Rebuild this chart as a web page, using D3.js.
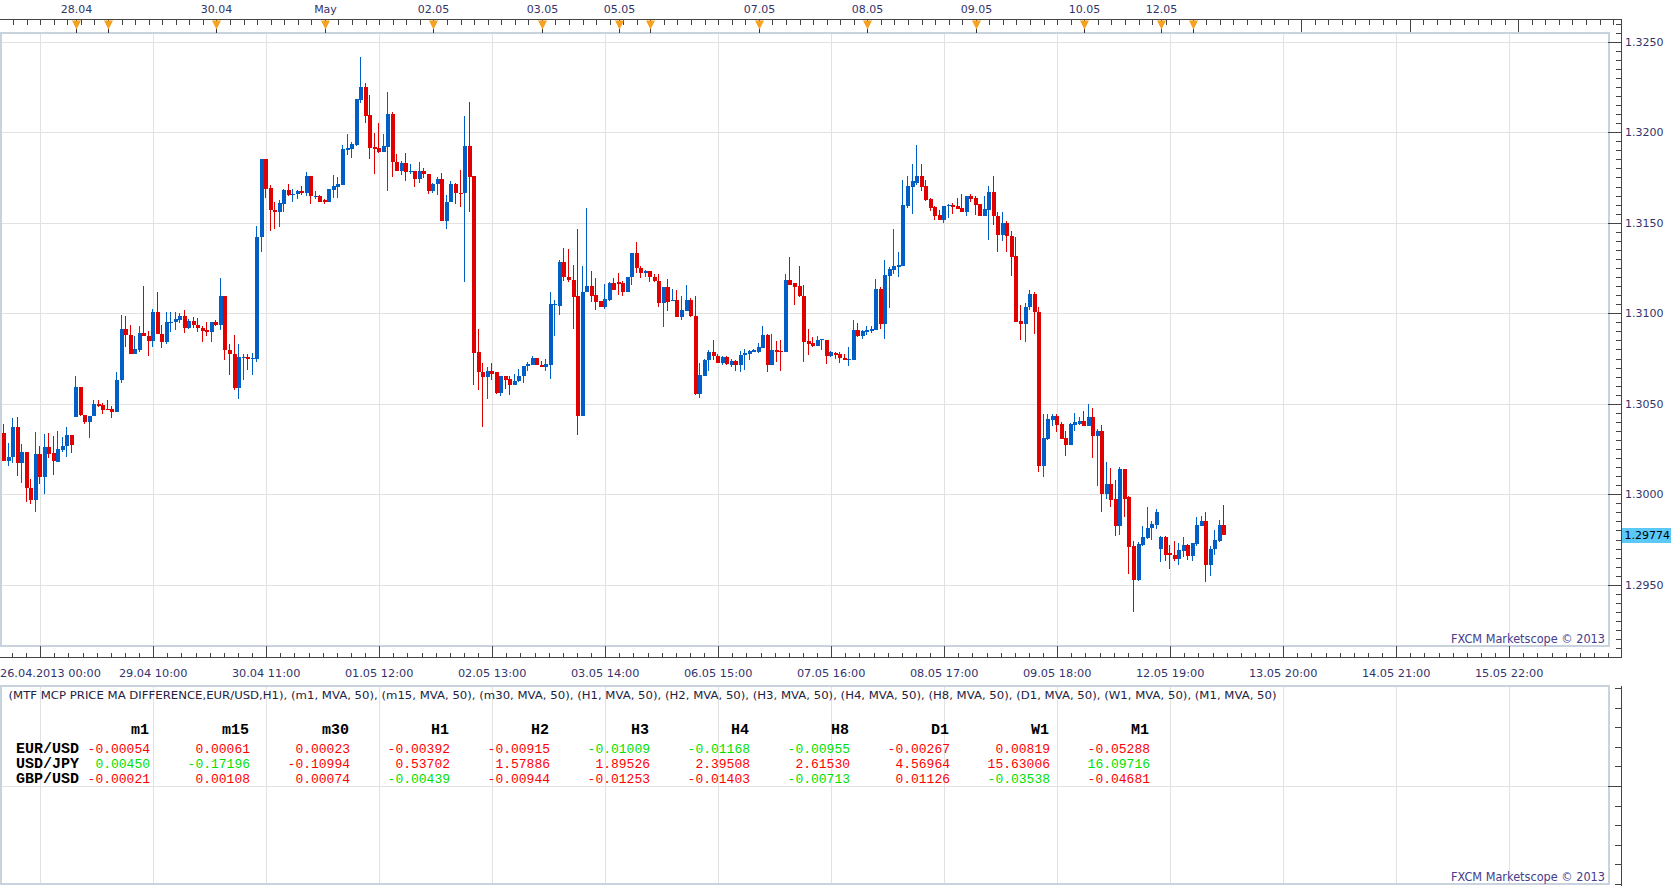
<!DOCTYPE html>
<html><head><meta charset="utf-8">
<script src="https://cdn.jsdelivr.net/npm/d3@7"></script>
<style>html,body{margin:0;padding:0;background:#fff;overflow:hidden}</style>
</head><body>
<svg id="chart" width="1679" height="886"></svg>
<script>
// ---------- DATA ----------
const opens = [1.30339,1.30182,1.30206,1.30372,1.30173,1.30234,1.30035,1.29967,1.30223,1.30094,1.30261,1.30228,1.30180,1.30247,1.30265,1.30328,1.30425,1.30593,1.30438,1.30398,1.30431,1.30499,1.30493,1.30473,1.30471,1.30453,1.30629,1.30913,1.30880,1.30773,1.30799,1.30891,1.30876,1.30845,1.31007,1.30887,1.30839,1.30950,1.30950,1.30964,1.30986,1.30916,1.30959,1.30937,1.30920,1.30909,1.30894,1.30953,1.30933,1.31097,1.30799,1.30777,1.30585,1.30756,1.30760,1.30745,1.30749,1.31419,1.31853,1.31693,1.31571,1.31560,1.31606,1.31682,1.31651,1.31656,1.31674,1.31663,1.31759,1.31645,1.31649,1.31623,1.31612,1.31682,1.31700,1.31711,1.31904,1.31908,1.31930,1.32179,1.32249,1.32094,1.31917,1.31912,1.31893,1.31921,1.32101,1.31836,1.31788,1.31829,1.31779,1.31787,1.31741,1.31787,1.31770,1.31673,1.31713,1.31741,1.31507,1.31612,1.31715,1.31667,1.31663,1.31925,1.31759,1.30784,1.30677,1.30648,1.30683,1.30674,1.30559,1.30651,1.30637,1.30605,1.30624,1.30651,1.30707,1.30716,1.30751,1.30716,1.30701,1.30716,1.31045,1.31041,1.31281,1.31203,1.31185,1.31093,1.30431,1.31115,1.31148,1.31102,1.31065,1.31032,1.31075,1.31165,1.31174,1.31165,1.31119,1.31198,1.31334,1.31251,1.31222,1.31235,1.31202,1.31180,1.31054,1.31146,1.31065,1.31075,1.30981,1.31014,1.31075,1.30986,1.30556,1.30651,1.30740,1.30784,1.30765,1.30725,1.30756,1.30716,1.30734,1.30712,1.30767,1.30775,1.30786,1.30784,1.30810,1.30878,1.30716,1.30799,1.30789,1.30784,1.31185,1.31167,1.31148,1.31098,1.30848,1.30835,1.30817,1.30852,1.30854,1.30762,1.30780,1.30777,1.30753,1.30740,1.30743,1.30909,1.30872,1.30894,1.30904,1.30909,1.31135,1.30942,1.31207,1.31240,1.31253,1.31262,1.31593,1.31700,1.31719,1.31759,1.31704,1.31632,1.31588,1.31544,1.31516,1.31590,1.31599,1.31593,1.31581,1.31562,1.31645,1.31636,1.31605,1.31535,1.31571,1.31671,1.31538,1.31433,1.31498,1.31428,1.31318,1.30959,1.30942,1.31032,1.31108,1.31008,1.30158,1.30305,1.30412,1.30434,1.30390,1.30311,1.30274,1.30385,1.30390,1.30407,1.30379,1.30425,1.30324,1.30352,1.30004,1.30059,1.29976,1.29827,1.30142,1.29983,1.29713,1.29529,1.29722,1.29759,1.29811,1.29833,1.29698,1.29763,1.29673,1.29667,1.29643,1.29685,1.29722,1.29658,1.29728,1.29827,1.29851,1.29612,1.29695,1.29744,1.29833];
const highs = [1.30390,1.30283,1.30421,1.30427,1.30280,1.30234,1.30085,1.30344,1.30269,1.30333,1.30339,1.30324,1.30352,1.30315,1.30370,1.30328,1.30655,1.30593,1.30438,1.30434,1.30523,1.30523,1.30504,1.30523,1.30490,1.30675,1.30990,1.30986,1.30933,1.30876,1.30927,1.31152,1.30904,1.31023,1.31117,1.30933,1.31007,1.31007,1.31007,1.31001,1.31019,1.30968,1.30977,1.30973,1.30931,1.30950,1.30951,1.30961,1.31196,1.31097,1.30832,1.30881,1.30832,1.30777,1.30777,1.30780,1.31483,1.31853,1.31853,1.31706,1.31614,1.31623,1.31687,1.31715,1.31685,1.31682,1.31704,1.31781,1.31759,1.31673,1.31654,1.31630,1.31685,1.31765,1.31752,1.31930,1.31989,1.31947,1.32182,1.32414,1.32271,1.32206,1.31995,1.32050,1.31989,1.32221,1.32114,1.31881,1.31842,1.31884,1.31823,1.31787,1.31833,1.31805,1.31770,1.31722,1.31750,1.31777,1.31654,1.31731,1.31722,1.31792,1.32087,1.32169,1.31759,1.30915,1.30725,1.30701,1.30725,1.30674,1.30655,1.30655,1.30655,1.30664,1.30692,1.30710,1.30729,1.30765,1.30751,1.30734,1.30747,1.31115,1.31071,1.31295,1.31363,1.31354,1.31268,1.31467,1.31259,1.31582,1.31235,1.31194,1.31065,1.31163,1.31170,1.31194,1.31222,1.31176,1.31203,1.31334,1.31395,1.31259,1.31240,1.31235,1.31216,1.31218,1.31146,1.31189,1.31135,1.31126,1.31093,1.31154,1.31084,1.31098,1.30725,1.30747,1.30799,1.30850,1.30777,1.30762,1.30762,1.30747,1.30743,1.30793,1.30804,1.30799,1.30802,1.30835,1.30931,1.30887,1.30885,1.30845,1.30854,1.31216,1.31308,1.31167,1.31259,1.31154,1.30915,1.30869,1.30872,1.30856,1.30854,1.30789,1.30784,1.30784,1.30777,1.30813,1.30964,1.30948,1.30909,1.30931,1.30931,1.31188,1.31143,1.31295,1.31253,1.31465,1.31336,1.31737,1.31759,1.31825,1.31930,1.31825,1.31737,1.31636,1.31593,1.31571,1.31593,1.31605,1.31608,1.31636,1.31658,1.31645,1.31658,1.31649,1.31605,1.31649,1.31704,1.31759,1.31562,1.31562,1.31507,1.31455,1.31419,1.31047,1.31056,1.31130,1.31119,1.31034,1.30444,1.30444,1.30444,1.30445,1.30398,1.30348,1.30394,1.30449,1.30427,1.30458,1.30501,1.30477,1.30363,1.30385,1.30178,1.30145,1.30081,1.30149,1.30142,1.29989,1.29744,1.29737,1.29823,1.29930,1.29851,1.29921,1.29772,1.29768,1.29722,1.29744,1.29731,1.29763,1.29726,1.29731,1.29877,1.29882,1.29904,1.29713,1.29801,1.29857,1.29943];
const lows = [1.30182,1.30155,1.30173,1.30099,1.30063,1.29956,1.29947,1.29901,1.30057,1.30004,1.30201,1.30109,1.30177,1.30232,1.30204,1.30228,1.30425,1.30431,1.30388,1.30311,1.30431,1.30480,1.30444,1.30464,1.30421,1.30453,1.30615,1.30813,1.30773,1.30773,1.30784,1.30872,1.30762,1.30813,1.30883,1.30806,1.30832,1.30894,1.30909,1.30946,1.30891,1.30913,1.30918,1.30896,1.30839,1.30876,1.30843,1.30927,1.30905,1.30740,1.30661,1.30574,1.30528,1.30629,1.30685,1.30661,1.30729,1.31341,1.31636,1.31452,1.31465,1.31479,1.31557,1.31649,1.31612,1.31630,1.31654,1.31649,1.31605,1.31630,1.31614,1.31601,1.31612,1.31636,1.31636,1.31711,1.31875,1.31857,1.31925,1.32164,1.32050,1.31853,1.31770,1.31884,1.31893,1.31678,1.31752,1.31788,1.31765,1.31728,1.31768,1.31695,1.31719,1.31746,1.31658,1.31667,1.31651,1.31507,1.31467,1.31612,1.31605,1.31586,1.31170,1.31557,1.30605,1.30574,1.30370,1.30526,1.30629,1.30556,1.30541,1.30583,1.30548,1.30602,1.30618,1.30615,1.30679,1.30716,1.30712,1.30701,1.30679,1.30637,1.30872,1.30992,1.31176,1.31170,1.30915,1.30326,1.30431,1.31115,1.31060,1.31016,1.31032,1.31025,1.31065,1.31126,1.31102,1.31098,1.31115,1.31157,1.31222,1.31194,1.31198,1.31170,1.31170,1.31032,1.30922,1.31010,1.31065,1.30977,1.30964,1.31010,1.30977,1.30548,1.30532,1.30651,1.30679,1.30740,1.30725,1.30716,1.30716,1.30703,1.30679,1.30674,1.30688,1.30743,1.30784,1.30780,1.30810,1.30674,1.30716,1.30729,1.30679,1.30784,1.31157,1.31043,1.31089,1.30729,1.30771,1.30813,1.30817,1.30795,1.30721,1.30756,1.30747,1.30725,1.30740,1.30707,1.30743,1.30867,1.30858,1.30878,1.30891,1.30909,1.30915,1.30859,1.31029,1.31218,1.31203,1.31262,1.31584,1.31549,1.31706,1.31673,1.31621,1.31566,1.31513,1.31516,1.31498,1.31525,1.31549,1.31577,1.31562,1.31538,1.31617,1.31544,1.31535,1.31535,1.31406,1.31489,1.31341,1.31400,1.31341,1.31207,1.30950,1.30854,1.30839,1.31016,1.30887,1.30125,1.30094,1.30298,1.30375,1.30342,1.30307,1.30210,1.30274,1.30352,1.30385,1.30379,1.30379,1.30201,1.30044,1.29901,1.29976,1.29928,1.29772,1.29777,1.29877,1.29562,1.29349,1.29523,1.29717,1.29754,1.29746,1.29809,1.29625,1.29630,1.29590,1.29630,1.29612,1.29654,1.29636,1.29634,1.29717,1.29823,1.29516,1.29547,1.29667,1.29735,1.29774];
const closes = [1.30182,1.30206,1.30372,1.30173,1.30234,1.30035,1.29967,1.30223,1.30096,1.30261,1.30225,1.30182,1.30250,1.30269,1.30328,1.30271,1.30593,1.30438,1.30399,1.30434,1.30499,1.30488,1.30467,1.30469,1.30453,1.30633,1.30913,1.30878,1.30773,1.30802,1.30891,1.30872,1.30845,1.31007,1.30883,1.30839,1.30951,1.30953,1.30968,1.30986,1.30916,1.30959,1.30933,1.30916,1.30904,1.30894,1.30951,1.30933,1.31097,1.30795,1.30773,1.30585,1.30760,1.30760,1.30745,1.30753,1.31421,1.31853,1.31689,1.31568,1.31562,1.31608,1.31682,1.31651,1.31660,1.31674,1.31663,1.31759,1.31645,1.31649,1.31617,1.31614,1.31685,1.31704,1.31715,1.31908,1.31912,1.31936,1.32182,1.32249,1.32090,1.31915,1.31908,1.31893,1.31925,1.32101,1.31833,1.31788,1.31829,1.31779,1.31787,1.31741,1.31787,1.31768,1.31673,1.31715,1.31741,1.31507,1.31616,1.31715,1.31663,1.31663,1.31925,1.31755,1.30780,1.30674,1.30648,1.30683,1.30664,1.30559,1.30651,1.30633,1.30605,1.30628,1.30655,1.30710,1.30721,1.30751,1.30712,1.30701,1.30721,1.31049,1.31053,1.31281,1.31198,1.31181,1.31088,1.30431,1.31119,1.31148,1.31098,1.31060,1.31032,1.31080,1.31165,1.31130,1.31161,1.31119,1.31203,1.31334,1.31248,1.31222,1.31235,1.31198,1.31176,1.31054,1.31146,1.31064,1.31075,1.30981,1.31019,1.31075,1.30983,1.30556,1.30657,1.30743,1.30784,1.30762,1.30725,1.30756,1.30720,1.30734,1.30712,1.30771,1.30778,1.30789,1.30795,1.30813,1.30878,1.30716,1.30799,1.30784,1.30784,1.31185,1.31157,1.31143,1.31093,1.30843,1.30832,1.30817,1.30854,1.30856,1.30762,1.30784,1.30771,1.30751,1.30740,1.30747,1.30909,1.30872,1.30900,1.30909,1.30915,1.31135,1.30942,1.31213,1.31246,1.31259,1.31268,1.31599,1.31704,1.31728,1.31759,1.31700,1.31627,1.31584,1.31538,1.31516,1.31593,1.31599,1.31588,1.31577,1.31562,1.31645,1.31632,1.31599,1.31535,1.31577,1.31671,1.31535,1.31433,1.31498,1.31424,1.31312,1.30953,1.30942,1.31036,1.31108,1.31005,1.30158,1.30311,1.30416,1.30434,1.30385,1.30307,1.30274,1.30390,1.30398,1.30407,1.30379,1.30425,1.30324,1.30352,1.30004,1.30059,1.29971,1.29827,1.30142,1.29976,1.29709,1.29529,1.29728,1.29763,1.29814,1.29838,1.29903,1.29763,1.29667,1.29662,1.29643,1.29691,1.29722,1.29658,1.29731,1.29833,1.29851,1.29612,1.29700,1.29750,1.29833,1.29774];

const priceTicks = [1.2950, 1.3000, 1.3050, 1.3100, 1.3150, 1.3200, 1.3250];
const lastPrice = 1.29774;

const dayIndex  = [16, 23, 47, 71, 95, 119, 136, 143, 167, 191, 215, 239, 256, 263];
const dayLabels = ["28.04", "", "30.04", "May", "02.05", "03.05", "05.05", "", "07.05", "08.05", "09.05", "10.05", "12.05", ""];

const timeGridIndex = [8, 33, 58, 83, 108, 133, 158, 183, 208, 233, 258, 283, 308, 333];
const timeLabels = ["26.04.2013 00:00", "29.04 10:00", "30.04 11:00", "01.05 12:00", "02.05 13:00", "03.05 14:00", "06.05 15:00", "07.05 16:00", "08.05 17:00", "09.05 18:00", "12.05 19:00", "13.05 20:00", "14.05 21:00", "15.05 22:00"];

const indicatorName = "MTF MCP PRICE MA DIFFERENCE";
const indicatorSymbol = "EUR/USD";
const indicatorFrame = "H1";
const maMethod = "MVA";
const maPeriod = 50;

const periods = ["m1", "m15", "m30", "H1", "H2", "H3", "H4", "H8", "D1", "W1", "M1"];
const pairs = ["EUR/USD", "USD/JPY", "GBP/USD"];
const eurusdDiff = [-0.00054, 0.00061, 0.00023, -0.00392, -0.00915, -0.01009, -0.01168, -0.00955, -0.00267, 0.00819, -0.05288];
const usdjpyDiff = [0.00450, -0.17196, -0.10994, 0.53702, 1.57886, 1.89526, 2.39508, 2.61530, 4.56964, 15.63006, 16.09716];
const gbpusdDiff = [-0.00021, 0.00108, 0.00074, -0.00439, -0.00944, -0.01253, -0.01403, -0.00713, 0.01126, -0.03538, -0.04681];
// signal: "S" = sell (red), "B" = buy (green)
const eurusdSignal = ["S","S","S","S","S","B","B","B","S","S","S"];
const usdjpySignal = ["B","B","S","S","S","S","S","S","S","S","B"];
const gbpusdSignal = ["S","S","S","B","S","S","S","B","S","B","S"];
const watermark = "FXCM Marketscope \u00A9 2013";

// ---------- LAYOUT / STYLE ----------
const svg = d3.select("#chart");
const C_UP = "#005fc6", C_DN = "#e00000";
const C_GRID = "#e2e2e2", C_FRAME = "#c9d3de", C_AXIS = "#444", C_TXT = "#33336b";
const FONT = "'DejaVu Sans', Verdana, sans-serif";
const MONO = "'Liberation Mono', 'Courier New', monospace";

const axisX = 1621.5;
const topAxisY = 19.5;
const main = {top: 33, bottom: 646, right: 1609};
const botAxisY = 657.5;
const low = {top: 686, bottom: 884};

const x = d3.scaleLinear().domain([0, 356]).range([4, 4 + 356 * 4.52]);
const y = d3.scaleLinear().domain([1.2950, 1.3250]).range([584.8, 41.7]);

const candles = opens.map((o, i) => ({i, o, h: highs[i], l: lows[i], c: closes[i]}));

// main frame background
svg.append("rect").attr("x", 1).attr("y", main.top).attr("width", main.right - 1).attr("height", main.bottom - main.top)
  .attr("fill", "#fff");

// grid main
const gGrid = svg.append("g").attr("shape-rendering", "crispEdges").attr("stroke", C_GRID).attr("stroke-width", 1);
timeGridIndex.forEach(g => {
  const xx = Math.round(x(g)) + 0.5;
  gGrid.append("line").attr("x1", xx).attr("x2", xx).attr("y1", main.top).attr("y2", main.bottom);
  gGrid.append("line").attr("x1", xx).attr("x2", xx).attr("y1", low.top).attr("y2", low.bottom);
});
priceTicks.forEach(p => {
  const yy = Math.round(y(p)) + 0.5;
  gGrid.append("line").attr("x1", 0).attr("x2", main.right).attr("y1", yy).attr("y2", yy);
});
gGrid.append("line").attr("x1", 0).attr("x2", main.right).attr("y1", 786.5).attr("y2", 786.5);

// frames
svg.append("rect").attr("x", 1).attr("y", main.top).attr("width", main.right - 1).attr("height", main.bottom - main.top)
  .attr("fill", "none").attr("stroke", C_FRAME).attr("stroke-width", 2);
svg.append("rect").attr("x", 1).attr("y", low.top).attr("width", main.right - 1).attr("height", low.bottom - low.top)
  .attr("fill", "none").attr("stroke", C_FRAME).attr("stroke-width", 2);

// candles
const gC = svg.append("g").attr("shape-rendering", "crispEdges");
const cg = gC.selectAll("g").data(candles).join("g").attr("fill", d => d.c >= d.o ? C_UP : C_DN);
cg.append("rect")
  .attr("x", d => Math.round(x(d.i)) - 1)
  .attr("width", 1)
  .attr("y", d => Math.round(y(d.h)))
  .attr("height", d => Math.max(1, Math.round(y(d.l)) - Math.round(y(d.h))));
cg.append("rect")
  .attr("x", d => Math.round(x(d.i)) - 2)
  .attr("width", 4)
  .attr("y", d => Math.round(y(Math.max(d.o, d.c))))
  .attr("height", d => Math.max(1, Math.round(y(Math.min(d.o, d.c))) - Math.round(y(Math.max(d.o, d.c)))));

// ---------- AXES ----------
const gA = svg.append("g").attr("shape-rendering", "crispEdges").attr("stroke", C_AXIS).attr("stroke-width", 1);
// top axis
gA.append("line").attr("x1", 0).attr("x2", axisX).attr("y1", topAxisY).attr("y2", topAxisY);
for (let k = 2; x(k) < axisX - 2; k += 3) {
  const xx = Math.round(x(k)) + 0.5;
  gA.append("line").attr("x1", xx).attr("x2", xx).attr("y1", topAxisY).attr("y2", topAxisY + 5);
}
const lastDay = dayIndex[dayIndex.length - 1];
for (let k = lastDay + 24; x(k) < axisX; k += 24) {
  const xx = Math.round(x(k)) + 0.5;
  gA.append("line").attr("x1", xx).attr("x2", xx).attr("y1", topAxisY).attr("y2", main.top - 1);
}
// right axis (main)
gA.append("line").attr("x1", axisX).attr("x2", axisX).attr("y1", topAxisY).attr("y2", botAxisY);
d3.range(2583, 2653).forEach(k => {
  const p = k * 0.0005;
  const yy = Math.round(y(p)) + 0.5;
  const major = k % 10 === 0;
  gA.append("line").attr("x1", axisX - (major ? 14 : 6)).attr("x2", axisX).attr("y1", yy).attr("y2", yy);
});
// bottom axis (main)
gA.append("line").attr("x1", 0).attr("x2", axisX).attr("y1", botAxisY).attr("y2", botAxisY);
const step = 25 / 8;
for (let t = timeGridIndex[0] - 3 * step; x(t) < axisX - 2; t += step) {
  if (x(t) < 0) continue;
  const xx = Math.round(x(t)) + 0.5;
  const isMajor = timeGridIndex.some(g => Math.abs(g - t) < 0.01);
  gA.append("line").attr("x1", xx).attr("x2", xx).attr("y1", isMajor ? main.bottom : botAxisY - 5).attr("y2", botAxisY);
}
// right axis (lower panel)
gA.append("line").attr("x1", axisX).attr("x2", axisX).attr("y1", low.top).attr("y2", 886);
const osc = d3.scaleLinear().domain([-1, 1]).range([884, 688]);
d3.range(-5, 6).forEach(k => {
  const yy = Math.round(osc(k / 5)) + 0.5;
  gA.append("line").attr("x1", axisX - (k === 0 ? 14 : 7)).attr("x2", axisX).attr("y1", yy).attr("y2", yy);
});

// day markers (triangles)
const gD = svg.append("g");
dayIndex.forEach((d, j) => {
  const xx = Math.round(x(d)) + 0.5;
  gD.append("line").attr("x1", xx).attr("x2", xx).attr("y1", topAxisY).attr("y2", main.top)
    .attr("stroke", "#333").attr("shape-rendering", "crispEdges");
  gD.append("path").attr("d", `M${xx - 4.5},${topAxisY + 1}L${xx + 4.5},${topAxisY + 1}L${xx},${topAxisY + 10}Z`)
    .attr("fill", "#f6a21e");
  if (dayLabels[j]) {
    gD.append("text").attr("x", xx).attr("y", 12.5).attr("text-anchor", "middle")
      .attr("font-family", FONT).attr("font-size", 11).attr("fill", C_TXT).text(dayLabels[j]);
  }
});

// price labels
priceTicks.forEach(p => {
  svg.append("text").attr("x", 1625).attr("y", y(p)).attr("dy", "0.36em")
    .attr("font-family", FONT).attr("font-size", 11).attr("fill", C_TXT).text(p.toFixed(4));
});
svg.append("rect").attr("x", 1622).attr("y", Math.round(y(lastPrice)) - 7).attr("width", 49).attr("height", 15)
  .attr("fill", "#5cc8f8");
svg.append("text").attr("x", 1624.5).attr("y", y(lastPrice)).attr("dy", "0.38em")
  .attr("font-family", FONT).attr("font-size", 11).attr("fill", "#000").text(lastPrice.toFixed(5));

// time labels
timeGridIndex.forEach((g, j) => {
  const t = svg.append("text").attr("y", 676.5).attr("font-family", FONT).attr("font-size", 11.3)
    .attr("fill", C_TXT).text(timeLabels[j]);
  if (j === 0) t.attr("x", 0).attr("text-anchor", "start");
  else t.attr("x", x(g)).attr("text-anchor", "middle");
});

// watermarks
[643, 881].forEach(yy => {
  svg.append("text").attr("x", 1605).attr("y", yy).attr("text-anchor", "end")
    .attr("font-family", FONT).attr("font-size", 11.5).attr("fill", "#463c8c")
    .attr("textLength", 154).attr("lengthAdjust", "spacingAndGlyphs").text(watermark);
});

// ---------- LOWER PANEL ----------
const title = `(${indicatorName},${indicatorSymbol},${indicatorFrame}), ` +
  periods.map(p => `(${p}, ${maMethod}, ${maPeriod})`).join(", ");
svg.append("text").attr("x", 8.5).attr("y", 699).attr("font-family", FONT).attr("font-size", 11)
  .attr("fill", "#23233f").attr("textLength", 1268).attr("lengthAdjust", "spacingAndGlyphs").text(title);

const colX = k => 150 + 100 * k;
const rowY = [748, 763, 778];
periods.forEach((p, k) => {
  svg.append("text").attr("x", colX(k) - 1).attr("y", 728.5).attr("dy", "0.35em").attr("text-anchor", "end")
    .attr("font-family", MONO).attr("font-weight", "bold").attr("font-size", 15).attr("fill", "#000").text(p);
});
const rows = [[eurusdDiff, eurusdSignal], [usdjpyDiff, usdjpySignal], [gbpusdDiff, gbpusdSignal]];
pairs.forEach((pair, r) => {
  svg.append("text").attr("x", 16).attr("y", rowY[r]).attr("dy", "0.35em")
    .attr("font-family", MONO).attr("font-weight", "bold").attr("font-size", 15).attr("fill", "#000").text(pair);
  rows[r][0].forEach((v, k) => {
    svg.append("text").attr("x", colX(k)).attr("y", rowY[r]).attr("dy", "0.35em").attr("text-anchor", "end")
      .attr("font-family", MONO).attr("font-size", 13)
      .attr("fill", rows[r][1][k] === "B" ? "#00e000" : "#ff0000").text(v.toFixed(5));
  });
});
</script>
</body></html>
